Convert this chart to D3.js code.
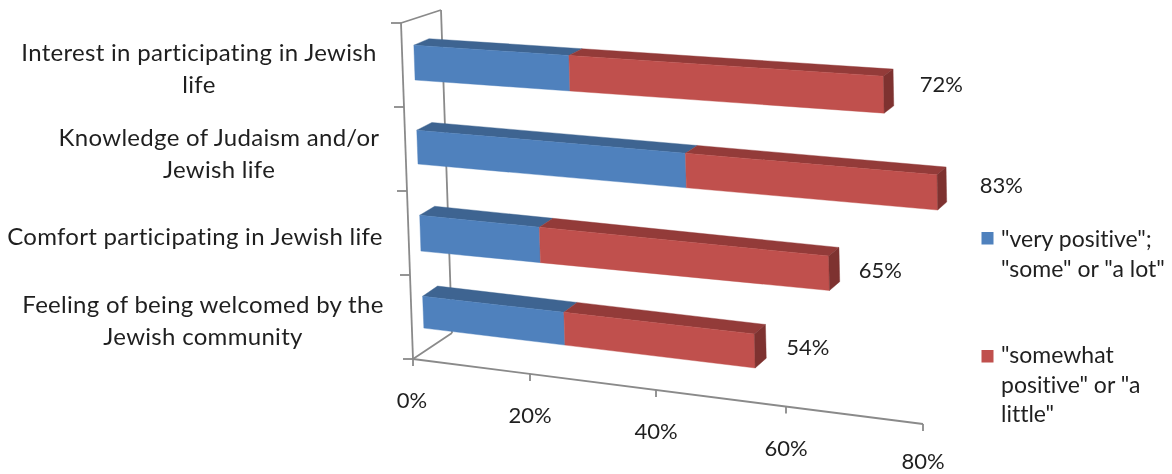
<!DOCTYPE html>
<html>
<head>
<meta charset="utf-8">
<script src="https://cdnjs.cloudflare.com/ajax/libs/d3/7.8.5/d3.min.js"></script>
<style>
html,body{margin:0;padding:0;background:#fff}
svg{display:block;filter:blur(.45px)}
text{font-family:Lato,"Open Sans",sans-serif;fill:#1f1f1f;font-variant-ligatures:none}
</style>
</head>
<body>
<div id="chart"></div>
<script>
// ---- data (top to bottom) ----
const categories = [
  ["Interest in participating in Jewish", "life"],
  ["Knowledge of Judaism and/or", "Jewish life"],
  ["Comfort participating in Jewish life"],
  ["Feeling of being welcomed by the", "Jewish community"]
];
const veryPositive = [26, 44, 20.5, 24];
const somewhatPositive = [48, 37.6, 45, 30];
const totalLabels = ["72%", "83%", "65%", "54%"];
const valueTicks = [0, 20, 40, 60, 80];
const legendLabels = [
  ['"very positive";', '"some" or "a lot"'],
  ['"somewhat', 'positive" or "a', 'little"']
];

// ---- layout ----
const W = 1172, H = 474;
const blue = {front:"#4F81BD", top:"#3E6491"};
const red  = {front:"#C0504D", top:"#933B39", side:"#7E3230"};
const axisColor = "#8a8a8a";

// 3D box corners: [x,y] for value end (L/R), height (B/T), depth (F/K)
const box = {
  LBF:[413,359], LTF:[401,23], LBK:[452,333], LTK:[441,10],
  RBF:[923,424], RTF:[917,58], RBK:[947,402], RTK:[941,43]
};
// fine vertical correction of each bar's edges: [left end, right end]
const nudgeBottom=[[2,-2],[3,0],[7,0],[1,-2]];
const nudgeTop=[[2,-1],[4,3],[6,4],[4,1]];
const backLift=1.2;
// perspective along the value axis, from the tick positions on the picture
const tScale = d3.scaleLinear().domain(valueTicks)
  .range([0, 117/510, 243/510, 373/510, 1]);
const band = d3.scaleBand().domain(d3.range(4)).range([4,0]).paddingInner(.58).paddingOuter(.29);
const lerp = (a,b,t)=>a+(b-a)*t;
function project(v,w,d){
  const t=tScale(v), h=w/4;
  return [0,1].map(i=>{
    const f=lerp(lerp(box.LBF[i],box.RBF[i],t),lerp(box.LTF[i],box.RTF[i],t),h);
    const k=lerp(lerp(box.LBK[i],box.RBK[i],t),lerp(box.LTK[i],box.RTK[i],t),h);
    return lerp(f,k,d);
  });
}
const D0=.30, D1=.68;

const svg=d3.select("#chart").append("svg").attr("width",W).attr("height",H).attr("viewBox",[0,0,W,H]);
const poly=(pts,fill)=>svg.append("path").attr("d",d3.line()(pts)+"Z").attr("fill",fill)
  .attr("stroke",fill).attr("stroke-width",.4);
const seg=(a,b)=>svg.append("line").attr("x1",a[0]).attr("y1",a[1]).attr("x2",b[0]).attr("y2",b[1])
  .attr("stroke",axisColor).attr("stroke-width",1.8);

// walls
seg(box.LTF,box.LBF); seg(box.LTF,box.LTK); seg(box.LTK,box.LBK); seg(box.LBF,box.LBK); 
seg(box.LBF,box.RBF);
// category ticks
d3.range(5).forEach(i=>{const p=project(0,i,0); seg([p[0]-10,p[1]],p);});
// value ticks
valueTicks.forEach(v=>{const p=project(v,0,0); seg(p,[p[0],p[1]+7]);});
svg.selectAll(".vt").data(valueTicks).join("text")
  .attr("text-anchor","middle").attr("font-size",22)
  .attr("x",v=>project(v,0,0)[0]+(v===0?-1:0))
  .attr("y",v=>Math.min(project(v,0,0)[1]+49,H-5))
  .text(v=>v+"%");

// bars
const labelDx=[48,55,41,42], labelDy=[2,9,15,13];
categories.forEach((c,i)=>{
  const wB=band(i), wT=wB+band.bandwidth();
  const cut=veryPositive[i], end=cut+somewhatPositive[i];
  const P=(v,top,d)=>{
    const p=project(v,top?wT:wB,d), n=(top?nudgeTop:nudgeBottom)[i];
    return [p[0],p[1]+lerp(n[0],n[1],tScale(v))-(d===D1?backLift:0)];
  };
  const face=(a,b,col)=>{
    poly([P(a,1,D0),P(b,1,D0),P(b,1,D1),P(a,1,D1)],col.top);
    poly([P(a,0,D0),P(b,0,D0),P(b,1,D0),P(a,1,D0)],col.front);
  };
  face(0,cut,blue); face(cut,end,red);
  poly([P(end,0,D0),P(end,1,D0),P(end,1,D1),P(end,0,D1)],red.side);
  const p=project(end,(wB+wT)/2,D1);
  svg.append("text").attr("x",p[0]+labelDx[i]).attr("y",p[1]+labelDy[i])
    .attr("text-anchor","middle").attr("font-size",22).text(totalLabels[i]);
});

// category labels
const labelX=[199,219,195,203], labelY=[61,146,245,313];
categories.forEach((lines,i)=>{
  lines.forEach((s,j)=>svg.append("text").attr("x",labelX[i]).attr("y",labelY[i]+j*31.5)
    .attr("text-anchor","middle").attr("font-size",24).attr("letter-spacing",.3).text(s));
});

// legend
[[blue.front,232,[247,277]],[red.front,350,[363,393,422]]].forEach((l,i)=>{
  svg.append("rect").attr("x",981.5).attr("y",l[1]).attr("width",12).attr("height",12.5).attr("fill",l[0]);
  legendLabels[i].forEach((s,j)=>svg.append("text").attr("x",1001).attr("y",l[2][j]).attr("font-size",23).text(s));
});
</script>
</body>
</html>
